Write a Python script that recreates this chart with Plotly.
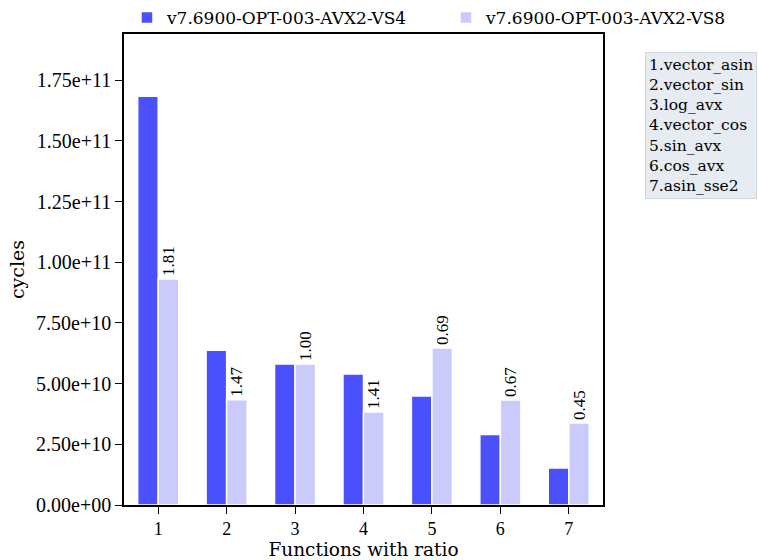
import plotly.graph_objects as go

# Benchmark results: cycles per function for the two builds
functions = ["vector_asin", "vector_sin", "log_avx", "vector_cos", "sin_avx", "cos_avx", "asin_sse2"]
positions = [1, 2, 3, 4, 5, 6, 7]
series_names = ["v7.6900-OPT-003-AVX2-VS4", "v7.6900-OPT-003-AVX2-VS8"]
cycles_vs4 = [1.684e11, 6.37e10, 5.81e10, 5.40e10, 4.49e10, 2.90e10, 1.52e10]
cycles_vs8 = [9.31e10, 4.34e10, 5.81e10, 3.83e10, 6.47e10, 4.32e10, 3.38e10]
y_tick_vals = [0, 2.5e10, 5.0e10, 7.5e10, 1.0e11, 1.25e11, 1.5e11, 1.75e11]
y_tick_text = ["0.00e+00", "2.50e+10", "5.00e+10", "7.50e+10",
               "1.00e+11", "1.25e+11", "1.50e+11", "1.75e+11"]

# speed-up of VS4 over VS8, printed above each VS8 bar
ratios = [f"{a / b:.2f}" for a, b in zip(cycles_vs4, cycles_vs8)]

TEXT_FONT = "DejaVu Serif"
NUM_FONT = "Liberation Serif"
DARK = "rgb(75,80,253)"
LIGHT = "rgb(202,203,250)"

fig = go.Figure()
fig.add_trace(go.Bar(
    x=positions, y=cycles_vs4, name=series_names[0], legend="legend",
    marker=dict(color=DARK, line=dict(color="white", width=1.5)),
))
fig.add_trace(go.Bar(
    x=positions, y=cycles_vs8, name=series_names[1], legend="legend2",
    marker=dict(color=LIGHT, line=dict(color="white", width=1.5)),
    text=ratios, textposition="outside", textangle=-90,
    constraintext="none", cliponaxis=False,
    textfont=dict(family=NUM_FONT, size=17, color="black"),
))

legend_lines = "<br>".join(f"{i}.{name}" for i, name in zip(positions, functions))
fig.add_annotation(
    xref="paper", yref="paper", x=1.088, y=0.962,
    xanchor="left", yanchor="top", align="left",
    text=legend_lines, showarrow=False,
    font=dict(family=TEXT_FONT, size=15.5, color="black"),
    bgcolor="rgb(230,236,242)", bordercolor="rgb(208,214,222)",
    borderwidth=1, borderpad=3,
)

legend_style = dict(orientation="h", xref="container", yref="container",
                    y=1.0, xanchor="left", yanchor="top",
                    font=dict(family=TEXT_FONT, size=17), bgcolor="rgba(0,0,0,0)")

fig.update_layout(
    width=759, height=560,
    margin=dict(l=124, r=156, t=34, b=55, autoexpand=False),
    paper_bgcolor="white", plot_bgcolor="white",
    barmode="group", bargap=0.4, bargroupgap=0.0,
    font=dict(family=TEXT_FONT, size=15, color="black"),
    showlegend=True,
    legend=dict(x=0.1673, **legend_style),
    legend2=dict(x=0.5876, **legend_style),
    xaxis=dict(
        range=[0.5, 7.5], tickmode="array", tickvals=positions,
        ticktext=[str(p) for p in positions],
        showline=True, linecolor="black", linewidth=1.5, mirror=True,
        ticks="outside", ticklen=7, tickcolor="black",
        showgrid=False, zeroline=False,
        title=dict(text="Functions with ratio", font=dict(family=TEXT_FONT, size=18.5), standoff=8),
        tickfont=dict(family=NUM_FONT, size=18),
    ),
    yaxis=dict(
        range=[0, 1.94e11], tickmode="array", tickvals=y_tick_vals, ticktext=y_tick_text,
        showline=True, linecolor="black", linewidth=1.5, mirror=True,
        ticks="outside", ticklen=7, tickcolor="black",
        showgrid=False, zeroline=False,
        title=dict(text="cycles", font=dict(family=TEXT_FONT, size=19), standoff=6),
        tickfont=dict(family=NUM_FONT, size=20),
    ),
)

fig.write_html("out.html")
